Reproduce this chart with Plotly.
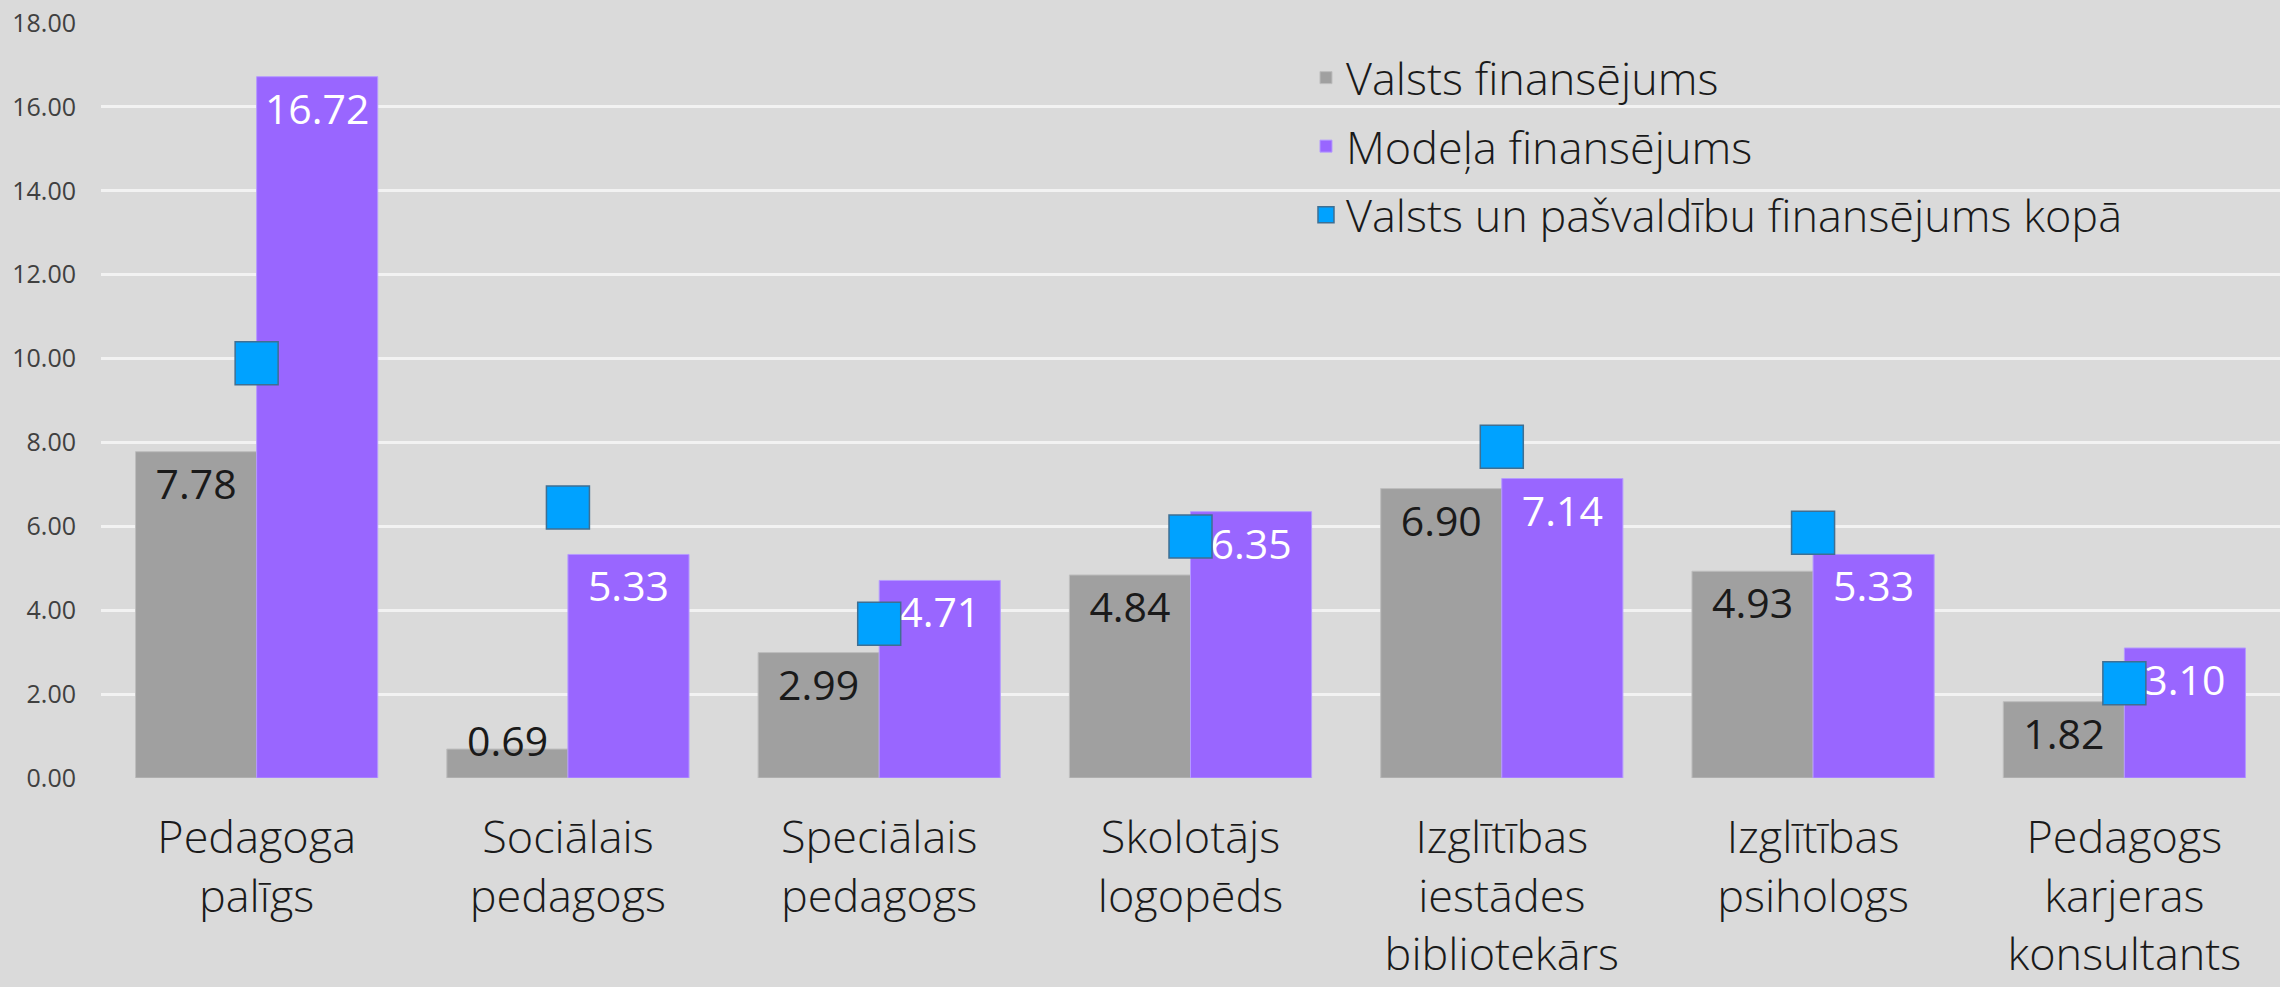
import plotly.graph_objects as go

categories = ["Pedagoga palīgs", "Sociālais pedagogs", "Speciālais pedagogs",
              "Skolotājs logopēds", "Izglītības iestādes bibliotekārs",
              "Izglītības psihologs", "Pedagogs karjeras konsultants"]
tick_labels = ["Pedagoga<br>palīgs", "Sociālais<br>pedagogs", "Speciālais<br>pedagogs",
               "Skolotājs<br>logopēds", "Izglītības<br>iestādes<br>bibliotekārs",
               "Izglītības<br>psihologs", "Pedagogs<br>karjeras<br>konsultants"]
valsts = [7.78, 0.69, 2.99, 4.84, 6.90, 4.93, 1.82]
modela = [16.72, 5.33, 4.71, 6.35, 7.14, 5.33, 3.10]
kopa = [9.89, 6.45, 3.68, 5.76, 7.90, 5.85, 2.26]
y_ticks = [0, 2, 4, 6, 8, 10, 12, 14, 16, 18]

names = ["Valsts finansējums", "Modeļa finansējums",
         "Valsts un pašvaldību finansējums kopā"]

FONT = "Open Sans, Lato, DejaVu Sans, sans-serif"
LABEL_SIZE = 41
SMALL = 1.2  # values below this get label placed on the baseline

def pos_list(vals):
    return ["inside" if v >= SMALL else "none" for v in vals]

fig = go.Figure()
fig.add_trace(go.Bar(
    x=categories, y=valsts, name=names[0], legendgroup="a",
    marker=dict(color="#A0A0A0", line=dict(color="#BDBDBD", width=1)),
    text=[f"{v:.2f}" for v in valsts], textposition=pos_list(valsts),
    insidetextanchor="end", constraintext="none", textangle=0,
    insidetextfont=dict(family=FONT, size=LABEL_SIZE, color="#1A1A1A"),
    textfont=dict(family=FONT, size=LABEL_SIZE, color="#1A1A1A"),
    hoverinfo="skip"))
fig.add_trace(go.Bar(
    x=categories, y=modela, name=names[1], legendgroup="b",
    marker=dict(color="#9966FF", line=dict(color="#B59AFF", width=1)),
    text=[f"{v:.2f}" for v in modela], textposition=pos_list(modela),
    insidetextanchor="end", constraintext="none", textangle=0,
    insidetextfont=dict(family=FONT, size=LABEL_SIZE, color="#FFFFFF"),
    textfont=dict(family=FONT, size=LABEL_SIZE, color="#FFFFFF"),
    hoverinfo="skip"))
fig.add_trace(go.Scatter(
    x=categories, y=kopa, name=names[2], legendgroup="c", mode="markers",
    marker=dict(symbol="square", size=43, color="#00A2FF",
                line=dict(color="#3F6F92", width=1.5)),
    hoverinfo="skip"))

# labels for very short bars (placed just above the baseline)
for i, v in enumerate(valsts):
    if v < SMALL:
        fig.add_annotation(x=categories[i], y=0, text=f"{v:.2f}", showarrow=False,
                           xshift=-60, yanchor="bottom", yshift=8,
                           font=dict(family=FONT, size=LABEL_SIZE, color="#1A1A1A"))
for i, v in enumerate(modela):
    if v < SMALL:
        fig.add_annotation(x=categories[i], y=0, text=f"{v:.2f}", showarrow=False,
                           xshift=60, yanchor="bottom", yshift=8,
                           font=dict(family=FONT, size=LABEL_SIZE, color="#FFFFFF"))

fig.update_layout(
    width=2280, height=987, autosize=False,
    margin=dict(l=101, r=0, t=23, b=209),
    paper_bgcolor="#DADADA", plot_bgcolor="#DADADA",
    barmode="group", bargap=0.222, bargroupgap=0,
    font=dict(family=FONT, color="#404040"),
    showlegend=True,
    legend=dict(x=0.553, y=0.975, xanchor="left", yanchor="top",
                bgcolor="rgba(0,0,0,0)", traceorder="grouped",
                tracegroupgap=7, itemsizing="trace",
                font=dict(family=FONT, size=45, color="#1A1A1A", weight=300)),
    xaxis=dict(tickmode="array", tickvals=categories, ticktext=tick_labels,
               tickfont=dict(family=FONT, size=45, color="#1A1A1A", weight=300),
               showgrid=False, zeroline=False, showline=False, ticks="",
               ticklabelstandoff=29),
    yaxis=dict(range=[0, 18], tickmode="array", tickvals=y_ticks,
               tickformat=".2f", tickfont=dict(family=FONT, size=25, color="#404040"),
               showgrid=True, gridcolor="#F2F2F2", gridwidth=2.5,
               zeroline=False, showline=False, ticks="", ticklabelstandoff=24),
)

fig.write_html("out.html", config={"displayModeBar": False},
               post_script="document.body.style.margin='0';")
